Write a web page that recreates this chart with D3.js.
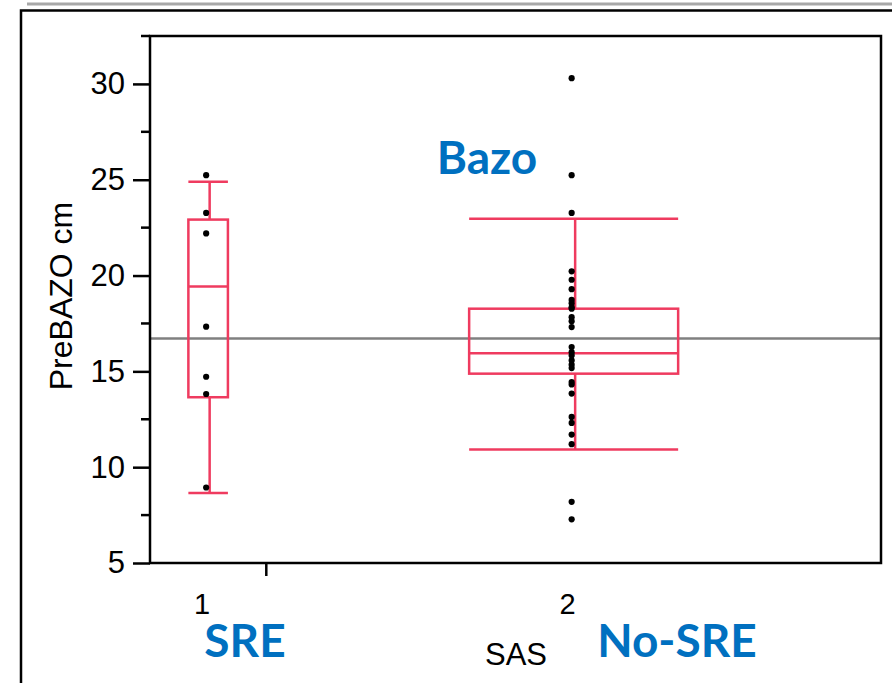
<!DOCTYPE html>
<html>
<head>
<meta charset="utf-8">
<script src="https://cdn.jsdelivr.net/npm/d3@7/dist/d3.min.js"></script>
<style>
  body { margin: 0; background: #fff; }
  svg { display: block; }
</style>
</head>
<body>
<div id="chart"></div>
<script>
// groups and counts (x axis is proportional to count)
var groups = ['1', '2'];
var groupNames = ['SRE', 'No-SRE'];
var counts = [7, 37];

// box plot stats per group
var whiskerLow = [8.65, 10.92];
var q1 = [13.65, 14.88];
var median = [19.43, 15.95];
var q3 = [22.92, 18.27];
var whiskerHigh = [24.9, 22.97];

var grandMean = 16.72;

// raw points
var pointsSRE = [25.24, 23.27, 22.2, 17.33, 14.72, 13.82, 8.94];
var pointsNoSRE = [30.3, 25.24, 23.27, 20.22, 19.78, 19.29, 18.73, 18.56, 18.35, 18.27,
  17.83, 17.62, 17.31, 16.27, 16.0, 15.83, 15.57, 15.35, 15.17, 14.44, 14.32, 13.84,
  12.62, 12.31, 11.7, 11.2, 8.19, 7.28];
var points = [pointsSRE, pointsNoSRE];

var yMajor = [5, 10, 15, 20, 25, 30];
var yMinor = [7.5, 12.5, 17.5, 22.5, 27.5, 32.5];

var W = 892, H = 683;
var red = '#ef3b5f';
var blue = '#0070c0';

var svg = d3.select('#chart').append('svg').attr('width', W).attr('height', H);

// page frame
svg.append('line').attr('x1', 27).attr('x2', W).attr('y1', 4).attr('y2', 4)
  .attr('stroke', '#a8a8a8').attr('stroke-width', 3);
svg.append('path').attr('d', 'M21,' + H + ' V10.5 H' + W)
  .attr('fill', 'none').attr('stroke', '#000').attr('stroke-width', 2.5);

var total = d3.sum(counts);
var x = d3.scaleLinear().domain([0, total]).range([150, 881]);
var y = d3.scaleLinear().domain([5, 32.5]).range([563, 36]);

var starts = [0];
for (var i = 1; i < counts.length; i++) { starts.push(starts[i-1] + counts[i-1]); }
function center(i){ return x(starts[i] + counts[i] / 2); }
function halfWidth(i){ return (x(counts[i]) - x(0)) * 0.17; }

// mean line
svg.append('line')
  .attr('x1', x(0)).attr('x2', x(total))
  .attr('y1', y(grandMean)).attr('y2', y(grandMean))
  .attr('stroke', '#808080').attr('stroke-width', 2.5);

// boxes
var g = svg.append('g').attr('fill', 'none').attr('stroke', red).attr('stroke-width', 2.5);
groups.forEach(function(d, i){
  var cx = center(i), hw = halfWidth(i);
  g.append('rect')
    .attr('x', cx - hw).attr('width', hw * 2)
    .attr('y', y(q3[i])).attr('height', y(q1[i]) - y(q3[i]));
  g.append('line').attr('x1', cx - hw).attr('x2', cx + hw)
    .attr('y1', y(median[i])).attr('y2', y(median[i]));
  // whiskers
  g.append('line').attr('x1', cx + 1.5).attr('x2', cx + 1.5)
    .attr('y1', y(whiskerHigh[i])).attr('y2', y(q3[i]));
  g.append('line').attr('x1', cx + 1.5).attr('x2', cx + 1.5)
    .attr('y1', y(q1[i])).attr('y2', y(whiskerLow[i]));
  g.append('line').attr('x1', cx - hw).attr('x2', cx + hw)
    .attr('y1', y(whiskerHigh[i])).attr('y2', y(whiskerHigh[i]));
  g.append('line').attr('x1', cx - hw).attr('x2', cx + hw)
    .attr('y1', y(whiskerLow[i])).attr('y2', y(whiskerLow[i]));
});

// points
groups.forEach(function(d, i){
  svg.append('g').selectAll('circle')
    .data(points[i]).enter().append('circle')
    .attr('cx', center(i) - 2)
    .attr('cy', function(v){ return y(v); })
    .attr('r', 3.1)
    .attr('fill', '#000');
});

// plot frame
svg.append('rect')
  .attr('x', x(0)).attr('y', y(32.5))
  .attr('width', x(total) - x(0)).attr('height', y(5) - y(32.5))
  .attr('fill', 'none').attr('stroke', '#000').attr('stroke-width', 2.5);

// y axis
var yAxis = d3.axisLeft(y).tickValues(yMajor).tickSize(17).tickPadding(8);
var ya = svg.append('g').attr('transform', 'translate(' + x(0) + ',0)').call(yAxis);
ya.select('.domain').remove();
ya.selectAll('line').attr('stroke', '#000').attr('stroke-width', 2.5);
ya.selectAll('text').attr('font-family', 'Liberation Sans, Arial, sans-serif')
  .attr('font-size', 31).attr('fill', '#000');
svg.append('g').selectAll('line').data(yMinor).enter().append('line')
  .attr('x1', x(0) - 9).attr('x2', x(0))
  .attr('y1', function(d){ return y(d); }).attr('y2', function(d){ return y(d); })
  .attr('stroke', '#000').attr('stroke-width', 2.5);

// x axis: group boundary tick and labels
svg.append('line')
  .attr('x1', x(counts[0])).attr('x2', x(counts[0]))
  .attr('y1', y(5)).attr('y2', y(5) + 13)
  .attr('stroke', '#000').attr('stroke-width', 2.5);
svg.append('g').selectAll('text').data(groups).enter().append('text')
  .attr('x', function(d, i){ return center(i) - 6; })
  .attr('y', 614)
  .attr('text-anchor', 'middle')
  .attr('font-family', 'Liberation Sans, Arial, sans-serif')
  .attr('font-size', 29)
  .text(function(d){ return d; });

svg.append('text').attr('x', 516).attr('y', 665).attr('text-anchor', 'middle')
  .attr('font-family', 'Liberation Sans, Arial, sans-serif').attr('font-size', 31)
  .text('SAS');

svg.append('text')
  .attr('transform', 'translate(72,296) rotate(-90)')
  .attr('text-anchor', 'middle')
  .attr('font-family', 'Liberation Sans, Arial, sans-serif').attr('font-size', 32)
  .text('PreBAZO cm');

// blue annotations
var notes = [
  {t: 'Bazo', x: 487, y: 174},
  {t: groupNames[0], x: 245, y: 657},
  {t: groupNames[1], x: 677, y: 657}
];
svg.append('g').selectAll('text').data(notes).enter().append('text')
  .attr('x', function(d){ return d.x; })
  .attr('y', function(d){ return d.y; })
  .attr('text-anchor', 'middle')
  .attr('font-family', 'Lato, sans-serif').attr('font-weight', 700)
  .attr('font-size', 46).attr('fill', blue)
  .text(function(d){ return d.t; });
</script>
</body>
</html>
